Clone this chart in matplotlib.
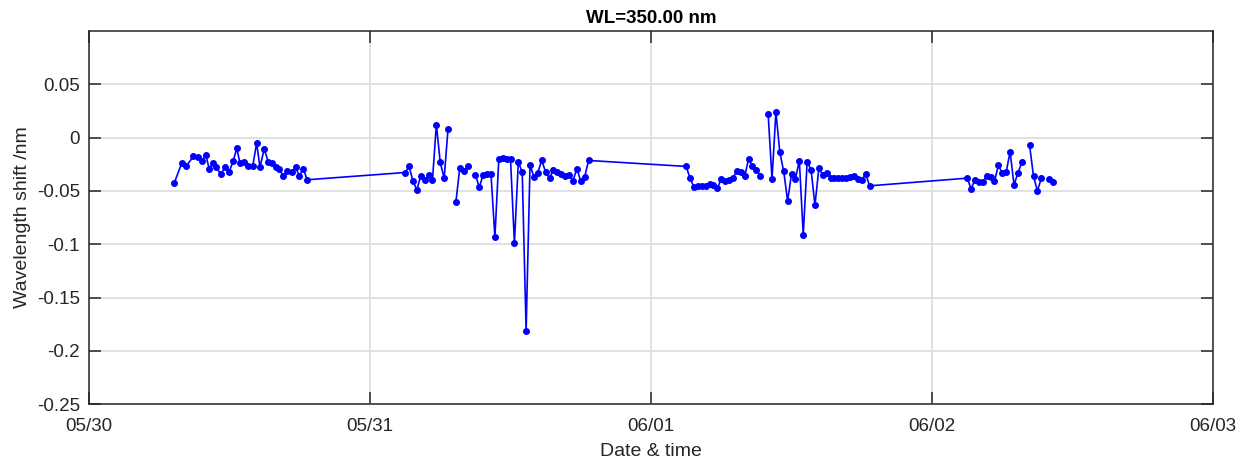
import numpy as np
import pandas as pd
import matplotlib
matplotlib.use("Agg")
import matplotlib.pyplot as plt
import matplotlib.dates as mdates
from matplotlib.ticker import FormatStrFormatter

# 05/30 daytime record
day1_times = ["07:16", "07:55", "08:17", "08:55", "09:17", "09:38", "09:58", "10:16",
              "10:34", "10:51", "11:16", "11:37", "11:58", "12:19", "12:37", "12:54",
              "13:16", "13:37", "13:59", "14:19", "14:36", "14:58", "15:19", "15:36",
              "15:58", "16:14", "16:35", "16:56", "17:19", "17:39", "17:58", "18:18",
              "18:38"]
day1_shift = [-0.043, -0.024, -0.027, -0.0176, -0.0185, -0.022, -0.016, -0.029,
              -0.024, -0.028, -0.034, -0.028, -0.032, -0.022, -0.010, -0.024,
              -0.023, -0.027, -0.027, -0.005, -0.0276, -0.0106, -0.023, -0.024,
              -0.028, -0.029, -0.036, -0.031, -0.032, -0.028, -0.036, -0.029,
              -0.0395]

# 05/31
day2_times = ["03:00", "03:20", "03:40", "04:00", "04:20", "04:40", "05:00", "05:20",
              "05:40", "06:00", "06:20", "06:40", "07:00", "07:20", "07:40", "08:00",
              "08:20", "08:40", "09:00", "09:20", "09:40", "10:00", "10:20", "10:40",
              "11:00", "11:20", "11:40", "12:00", "12:20", "12:40", "13:00", "13:20",
              "13:40", "14:00", "14:20", "14:40", "15:00", "15:20", "15:40", "16:00",
              "16:20", "16:40", "17:00", "17:20", "17:40", "18:00", "18:20", "18:40"]
day2_shift = [-0.0327, -0.027, -0.0405, -0.049, -0.0358, -0.040, -0.0348, -0.040,
              0.0122, -0.0232, -0.038, 0.0085, np.nan, -0.0605, -0.0286, -0.0317,
              -0.027, np.nan, -0.0348, -0.0465, -0.0348, -0.034, -0.0343, -0.0935,
              -0.020, -0.0195, -0.020, -0.020, -0.099, -0.0229, -0.0323, -0.181,
              -0.0254, -0.037, -0.0327, -0.0214, -0.0323, -0.038, -0.030, -0.0323,
              -0.034, -0.0364, -0.0355, -0.0405, -0.029, -0.041, -0.037, -0.0214]

# 06/01
day3_times = ["03:00", "03:20", "03:40", "04:00", "04:20", "04:40", "05:00", "05:20",
              "05:40", "06:00", "06:20", "06:40", "07:00", "07:20", "07:40", "08:00",
              "08:20", "08:40", "09:00", "09:20", "09:40", "10:00", "10:20", "10:40",
              "11:00", "11:20", "11:40", "12:00", "12:20", "12:40", "13:00", "13:20",
              "13:40", "14:00", "14:20", "14:40", "15:00", "15:20", "15:40", "16:00",
              "16:20", "16:40", "17:00", "17:20", "17:40", "18:00", "18:20", "18:40"]
day3_shift = [-0.027, -0.038, -0.0464, -0.0458, -0.0458, -0.0452, -0.0436, -0.0443,
              -0.0474, -0.0386, -0.0405, -0.0395, -0.0374, -0.0317, -0.0323, -0.0364,
              -0.0198, -0.027, -0.030, -0.0358, np.nan, 0.0226, -0.0389, 0.0242,
              -0.0138, -0.0317, -0.0593, -0.034, -0.0386, -0.0217, -0.091, -0.0232,
              -0.030, -0.0634, -0.0289, -0.0348, -0.0327, -0.0374, -0.0374, -0.0376,
              -0.0376, -0.0374, -0.0372, -0.0358, -0.0386, -0.040, -0.034, -0.0452]

# 06/02
day4_times = ["03:00", "03:20", "03:40", "04:00", "04:20", "04:40", "05:00", "05:20",
              "05:40", "06:00", "06:20", "06:40", "07:00", "07:20", "07:40", "08:00",
              "08:20", "08:40", "09:00", "09:20", "09:40", "10:00", "10:20"]
day4_shift = [-0.038, -0.048, -0.0395, -0.0417, -0.042, -0.0358, -0.037, -0.041,
              -0.026, -0.0332, -0.0323, -0.0132, -0.0443, -0.0332, -0.0232, np.nan,
              -0.0072, -0.0364, -0.050, -0.038, np.nan, -0.0389, -0.042]

days = ["2023-05-30", "2023-05-31", "2023-06-01", "2023-06-02"]
y_ticks = [-0.25, -0.2, -0.15, -0.1, -0.05, 0, 0.05]

stamps = []
values = []
for d, tt, vv in zip(days, [day1_times, day2_times, day3_times, day4_times],
                     [day1_shift, day2_shift, day3_shift, day4_shift]):
    stamps += [d + " " + t for t in tt]
    values += vv
t = pd.to_datetime(stamps)
values = np.array(values, dtype=float)

plt.rcParams['font.family'] = ['Liberation Sans', 'DejaVu Sans']

fig = plt.figure(figsize=(12.48, 4.63), dpi=100)
ax = fig.add_axes([0.0713, 0.127, 0.9007, 0.806])

ax.plot(t, values, color='blue', linewidth=1.2, marker='o', markersize=4)

ax.set_xlim(pd.Timestamp("2023-05-30"), pd.Timestamp("2023-06-03"))
ax.set_ylim(-0.25, 0.1)
ax.set_yticks(y_ticks)
ax.yaxis.set_major_formatter(FormatStrFormatter('%g'))
ax.xaxis.set_major_locator(mdates.DayLocator())
ax.xaxis.set_major_formatter(mdates.DateFormatter('%m/%d'))

ax.grid(True, color='#dcdcdc', linewidth=1.2)
ax.set_axisbelow(True)
ax.tick_params(direction='in', length=8.5, width=1.1, colors='#262626',
               labelsize=13.5, top=True, right=True)
ax.tick_params(axis='x', pad=10)
ax.tick_params(axis='y', pad=6.5)
for s in ax.spines.values():
    s.set_color('#262626')
    s.set_linewidth(1.1)

ax.set_title("WL=350.00 nm", fontsize=13.5, fontweight='bold', pad=6)
ax.set_xlabel("Date & time", fontsize=14, color='#262626', labelpad=6)
ax.set_ylabel("Wavelength shift /nm", fontsize=14, color='#262626', labelpad=4)

plt.savefig("out.png")
plt.close()
